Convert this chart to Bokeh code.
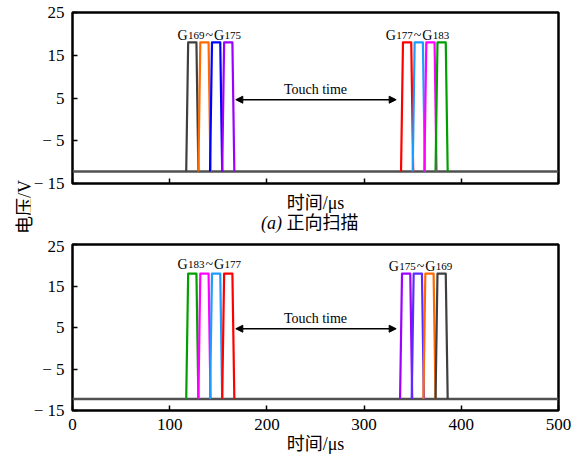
from bokeh.plotting import figure
from bokeh.layouts import column, row
from bokeh.models import Range1d, FixedTicker, Label, Arrow, NormalHead, ColumnDataSource, Div
from bokeh.embed import file_html
from bokeh.resources import INLINE

SERIF = "Liberation Serif"
MIXED = "Liberation Serif, Noto Sans CJK SC"

# ---------------- data ----------------
x_ticks = [0, 100, 200, 300, 400, 500]
y_ticks = [-15, -5, 5, 15, 25]
y_tick_text = {25: "25", 15: "15", 5: "5", -5: "\u2212 5", -15: "\u2212 15"}

HIGH = 18.0
LOW = -12.2
RISE, FLAT, FALL = 2.0, 8.5, 2.0

top_starts_a = [117, 129.5, 141.5, 154]
top_colors_a = ["#3f3f3f", "#ff6a00", "#0000ff", "#9d00ff"]
top_starts_b = [338, 350, 362, 373.5]
top_colors_b = ["#ff0000", "#1e9bff", "#ff00ff", "#00a000"]

bot_starts_a = [117, 129.5, 141.5, 154]
bot_colors_a = ["#00a000", "#ff00ff", "#1e9bff", "#ff0000"]
bot_starts_b = [337, 349, 361, 373.5]
bot_colors_b = ["#9d00ff", "#5b2cff", "#ff6a00", "#3f3f3f"]

top_gates = [("169", "175"), ("177", "183")]
bot_gates = [("183", "177"), ("175", "169")]

touch_text = "Touch time"
x_title = "时间/μs"
y_title = "电压/V"
caption_a = "(a)"
caption_txt = "正向扫描"


def pulse(t0):
    xs = [t0, t0 + RISE, t0 + RISE + FLAT, t0 + RISE + FLAT + FALL]
    ys = [LOW, HIGH, HIGH, LOW]
    return xs, ys


def make_panel(height, b_top, b_bottom, is_bottom, starts, colors, gates, gate_pos,
               arrow_y, touch_y):
    p = figure(width=546, height=height, x_range=Range1d(0, 500), y_range=Range1d(-15, 25),
               output_backend="svg", toolbar_location=None,
               min_border_left=42, min_border_right=18,
               min_border_top=b_top, min_border_bottom=b_bottom, margin=0)
    p.xgrid.visible = False
    p.ygrid.visible = False
    p.outline_line_color = "black"
    p.outline_line_width = 2.5
    p.background_fill_color = "white"
    p.border_fill_color = "white"

    for ax in (p.xaxis[0], p.yaxis[0]):
        ax.axis_line_color = None
        ax.major_tick_in = 5
        ax.major_tick_out = 0
        ax.minor_tick_in = 5
        ax.minor_tick_out = 0
        ax.major_tick_line_color = "black"
        ax.major_tick_line_width = 1.5
        ax.minor_tick_line_color = "black"
        ax.minor_tick_line_width = 1.5
        ax.major_label_text_font = SERIF
        ax.major_label_text_font_size = "17px"
        ax.major_label_text_color = "black"
    p.yaxis.ticker = FixedTicker(ticks=y_ticks, minor_ticks=[])
    p.yaxis.major_label_overrides = y_tick_text
    p.yaxis.major_label_standoff = 8

    if is_bottom:
        p.xaxis.ticker = FixedTicker(ticks=x_ticks, minor_ticks=[])
        p.xaxis.major_label_standoff = 8
        p.xaxis.axis_label_standoff = 1
    else:
        # ticks only, no numbers on the upper panel
        p.xaxis.ticker = FixedTicker(ticks=[], minor_ticks=x_ticks)
        p.xaxis.axis_label_standoff = 9
    p.xaxis.axis_label = x_title
    p.xaxis.axis_label_text_font = MIXED
    p.xaxis.axis_label_text_font_size = "18px"
    p.xaxis.axis_label_text_font_style = "normal"
    p.xaxis.axis_label_text_color = "black"

    # baseline
    p.line([0, 500], [LOW, LOW], line_color="#505050", line_width=2.5)

    xs, ys = [], []
    for t0 in starts:
        a, b = pulse(t0)
        xs.append(a)
        ys.append(b)
    src = ColumnDataSource(dict(xs=xs, ys=ys, c=colors))
    p.multi_line("xs", "ys", line_color="c", line_width=2.2, source=src, line_join="round")

    # gate labels with subscripts
    for (sa, sb), (gx, gy) in zip(gates, gate_pos):
        pieces = [("G", 0, 14, "alphabetic"), (sa, 10.5, 11, "middle"),
                  ("~", 28, 14, "alphabetic"), ("G", 36.5, 14, "alphabetic"),
                  (sb, 47, 11, "middle")]
        for txt, off, fs, bl in pieces:
            p.add_layout(Label(x=gx, y=gy, text=txt, x_offset=off, text_align="left",
                               text_baseline=bl, text_font=SERIF,
                               text_font_size=f"{fs}px", text_color="black"))

    # touch-time arrow
    p.add_layout(Arrow(start=NormalHead(size=7, fill_color="black", line_color="black"),
                       end=NormalHead(size=7, fill_color="black", line_color="black"),
                       x_start=168, y_start=arrow_y, x_end=333, y_end=arrow_y,
                       line_width=1.5, line_color="black"))
    p.add_layout(Label(x=250, y=touch_y, text=touch_text, text_align="center",
                       text_baseline="middle", text_font=SERIF, text_font_size="14px",
                       text_color="black"))
    return p


top = make_panel(216, 12, 33, False, top_starts_a + top_starts_b, top_colors_a + top_colors_b,
                 top_gates, [(108, 19.7), (322.3, 19.7)], 4.6, 7.0)
bot = make_panel(220, 8, 44, True, bot_starts_a + bot_starts_b, bot_colors_a + bot_colors_b,
                 bot_gates, [(108, 20.1), (325.4, 19.8)], 4.7, 7.1)

css_font = "font-family: 'Liberation Serif', 'Noto Sans CJK SC'; color: black;"
caption = Div(width=546, height=20, margin=0,
              text=(f"<div style=\"{css_font} font-size:18px; line-height:14px; "
                    f"margin:0; padding:0; margin-left:231px; white-space:nowrap;\">"
                    f"<span style=\"font-style:italic;\">{caption_a}</span> {caption_txt}</div>"))
ylab = Div(width=30, height=456, margin=0,
           text=(f"<div style=\"{css_font} font-size:18px; line-height:18px; margin:0; padding:0; "
                 f"margin-top:180px; margin-left:16px; writing-mode:vertical-rl; "
                 f"text-orientation:sideways; transform:rotate(180deg); white-space:nowrap;\">"
                 f"{y_title}</div>"))

layout = row(ylab, column(top, caption, bot, spacing=0), spacing=0)
open("out.html", "w").write(file_html(layout, INLINE))
